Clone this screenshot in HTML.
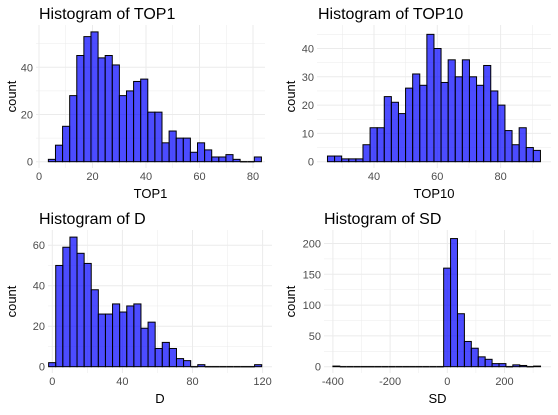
<!DOCTYPE html>
<html><head><meta charset="utf-8"><style>
body{margin:0;background:#fff;width:558px;height:410px;overflow:hidden}
svg{font-family:"Liberation Sans",sans-serif}
</style></head><body>
<svg id="c" width="558" height="410"></svg>
<script>
const top1Counts=[1,7,15,28,45,53,55,44,45,41,28,30,34,35,21,21,8,13,10,10,4,8,5,2,2,3,1,0,0,2];
const top10Counts=[2,2,1,1,1,6,12,12,23,21,17,26,31,27,45,40,28,36,30,36,30,27,34,25,20,11,6,12,5,4];
const dCounts=[2,50,59,64,56,51,38,26,26,31,27,30,31,19,22,9,12,9,4,3,0,1,0,0,0,0,0,0,0,1];
const sdCounts=[1,0,0,0,0,0,0,0,0,0,0,0,0,0,0,0,160,208,86,41,30,16,12,5,5,0,3,2,0,1];
const top1XTicks=[0,20,40,60,80];
const top10XTicks=[40,60,80];
const dXTicks=[0,40,80,120];
const sdXTicks=[-400,-200,0,200];
const top1YTicks=[0,20,40];
const top10YTicks=[0,10,20,30,40];
const dYTicks=[0,20,40,60];
const sdYTicks=[0,50,100,150,200];

const NS="http://www.w3.org/2000/svg";
const svg=document.getElementById('c');
function mk(tag,attrs,parent,text){const e=document.createElementNS(NS,tag);for(const k in attrs)e.setAttribute(k,attrs[k]);if(text!==undefined)e.textContent=text;(parent||svg).appendChild(e);return e;}

function panel(p){
  const g=mk('g',{});
  
  
  const xs=v=>p.x0px+(v-p.x0v)*p.xk;
  const ys=v=>p.y0px-v*p.yk;
  const xStep=p.xt[1]-p.xt[0], yStep=p.yt[1]-p.yt[0];
  for(let v=p.xt[0]-xStep;v<=p.xt[p.xt.length-1]+xStep;v+=xStep/2){
    const x=xs(v); if(x<p.L-0.5||x>p.R+0.5)continue;
    const major=p.xt.includes(v);
    mk('line',{x1:x,x2:x,y1:p.T,y2:p.B,stroke:'#ebebeb','stroke-width':major?1:0.5},g);
  }
  for(let v=p.yt[0];v<=p.yt[p.yt.length-1]+yStep;v+=yStep/2){
    const y=ys(v); if(y<p.T)continue;
    const major=p.yt.includes(v);
    mk('line',{x1:p.L,x2:p.R,y1:y,y2:y,stroke:'#ebebeb','stroke-width':major?1:0.5},g);
  }
  p.counts.forEach((c,i)=>{
    const a=p.start+i*p.w,b=a+p.w;
    if(c===0){
      const l=mk('rect',{x:xs(a),y:ys(0)-0.75,width:xs(b)-xs(a),height:1.5,fill:'#111'},g);
      
      
      return;
    }
    const r=mk('rect',{x:xs(a),y:ys(c),width:xs(b)-xs(a),height:ys(0)-ys(c),fill:'#0000ff','fill-opacity':0.7,stroke:'#000','stroke-width':1},g);
    
    
  });
  p.xt.forEach(v=>{const t=mk('text',{x:xs(v),y:p.B+12,'font-size':11,fill:'#4d4d4d','text-anchor':'middle'},g,String(v));
    });
  p.yt.forEach(v=>{const t=mk('text',{x:p.L-3,y:ys(v)+4,'font-size':11,fill:'#4d4d4d','text-anchor':'end'},g,String(v));
    });
  const tt=mk('text',{x:p.tx,y:p.ty,'font-size':16,fill:'#000'},g,'Histogram of '+p.label);
  
  const xt=mk('text',{x:(p.L+p.R)/2,y:p.B+30,'font-size':13,fill:'#000','text-anchor':'middle'},g,p.label);
  
  const cy=(p.T+p.B)/2;
  const yt=mk('text',{x:p.yx,y:cy,'font-size':13,fill:'#000','text-anchor':'middle',transform:`rotate(-90 ${p.yx} ${cy})`},g,'count');
  
}

panel({name:'top1',label:'TOP1',counts:top1Counts,start:3.5,w:2.655,xt:top1XTicks,yt:top1YTicks,
  x0v:0,x0px:39,xk:53.5/20,y0px:161.7,yk:47.2/20,L:36,R:265,T:25,B:168,tx:39,ty:19,yx:16});
panel({name:'top10',label:'TOP10',counts:top10Counts,start:25.3,w:2.243,xt:top10XTicks,yt:top10YTicks,
  x0v:40,x0px:374,xk:63.3/20,y0px:161.7,yk:28.3/10,L:317,R:551,T:25,B:168,tx:318,ty:19,yx:295});
panel({name:'d',label:'D',counts:dCounts,start:-2.1,w:4.053,xt:dXTicks,yt:dYTicks,
  x0v:0,x0px:52.3,xk:70.1/40,y0px:366.7,yk:40.5/20,L:48,R:272,T:230,B:373,tx:39,ty:224,yx:16});
panel({name:'sd',label:'SD',counts:sdCounts,start:-400,w:24.2,xt:sdXTicks,yt:sdYTicks,
  x0v:0,x0px:447.3,xk:57.2/200,y0px:366.7,yk:30.8/50,L:324,R:551,T:230,B:373,tx:324,ty:224,yx:295});
</script>
</body></html>
